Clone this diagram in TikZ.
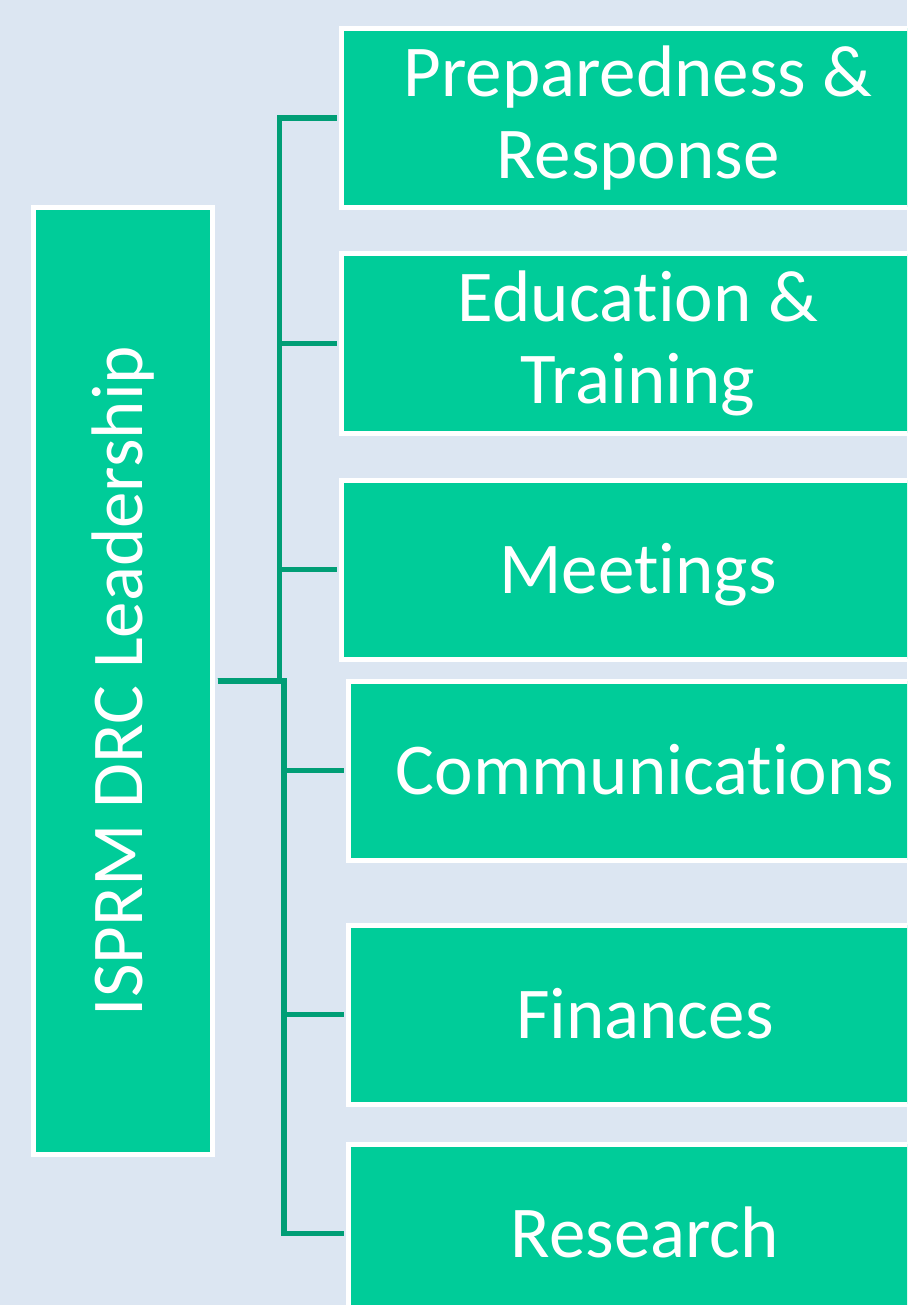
\documentclass[tikz,border=0pt]{standalone}
\usepackage{fontspec}
\setmainfont{Carlito}[Ligatures=NoCommon]
\usepackage{graphicx}
\usepackage{tikz}

\definecolor{panelbg}{RGB}{220,230,242}
\definecolor{teamgreen}{RGB}{0,204,153}
\definecolor{linkgreen}{RGB}{0,158,118}

\begin{document}
\begin{tikzpicture}[x=1pt,y=-1pt]
    \useasboundingbox (0,0) rectangle (907,1305);
    \clip (0,0) rectangle (907,1305);
    \fill [panelbg] (0,0) rectangle (907,1305);
    %% leadership
    \tikzstyle {leadbox} = [shape=rectangle, draw=white, line width=5pt, fill=teamgreen, text=white, inner sep=0pt, minimum width=179pt, minimum height=947pt, font=\fontsize{73}{82}\selectfont];
    \node (lead) [leadbox] at (123,681) {\rotatebox{90}{ISPRM DRC Leadership}};
    %% committees
    \tikzstyle {teambox} = [shape=rectangle, draw=white, line width=5pt, fill=teamgreen, text=white, inner sep=0pt, minimum width=593pt, minimum height=179pt, align=center, font=\fontsize{73}{82}\selectfont];
    \tikzstyle {oneline} = [text height=62pt, text depth=15pt];
    \node (prep) [teambox] at (638,118) {Preparedness \&\\Response};
    \node (edu) [teambox] at (638,343.5) {Education \&\\Training};
    \node (meet) [teambox, oneline] at (638,569.5) {Meetings};
    \node (comm) [teambox, oneline] at (645,770.5) {Communications};
    \node (fin) [teambox, oneline] at (645,1014.5) {Finances};
    \node (res) [teambox, oneline] at (645,1233.5) {Research};
    %% links
    \tikzstyle {link} = [draw=linkgreen, line width=5.5pt, shorten <=2.5pt, shorten >=2.5pt];
    \draw [link] (lead.east) -- ++(64.5,0) |- (prep.west);
    \draw [link] (lead.east) -- ++(64.5,0) |- (edu.west);
    \draw [link] (lead.east) -- ++(64.5,0) |- (meet.west);
    \draw [link] (lead.east) -- ++(69,0) |- (comm.west);
    \draw [link] (lead.east) -- ++(69,0) |- (fin.west);
    \draw [link] (lead.east) -- ++(69,0) |- (res.west);
\end{tikzpicture}
\end{document}
